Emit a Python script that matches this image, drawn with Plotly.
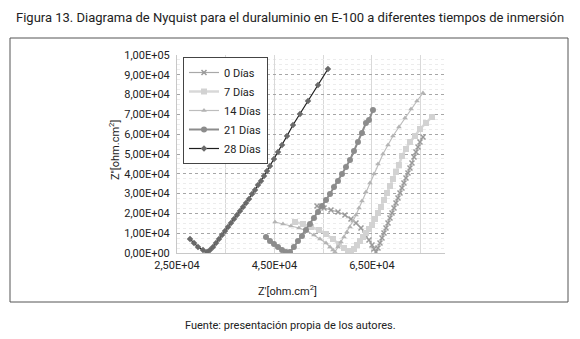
import plotly.graph_objects as go

# ---- data ----
series_names = ["0 Días", "7 Días", "14 Días", "21 Días", "28 Días"]

zr_0 = [53730, 55170, 56600, 58040, 59470, 60710, 61730, 62760, 63580, 64400, 65020, 65420, 65830,
        66250, 66660, 67070, 67480, 67890, 68300, 68710, 69120, 69530, 69940, 70350, 70760, 71170,
        71580, 71990, 72400, 72810, 73220, 73640, 74050, 74460, 74870, 75480]
zi_0 = [23740, 22730, 21720, 20710, 19190, 17170, 15150, 12630, 9600, 6570, 4040, 2020, 505,
        2525, 5050, 7580, 10100, 12630, 15150, 17680, 20200, 22730, 25250, 27780, 30300, 32830,
        35350, 37880, 40400, 42930, 45450, 48480, 51010, 53540, 56060, 58590]

zr_7 = [49210, 50860, 52500, 54140, 55580, 57010, 58240, 59270, 60090, 60710, 61320, 61940, 62550,
        63170, 63780, 64400, 65020, 65630, 66250, 66860, 67480, 68090, 68710, 69320, 69940, 70550,
        71170, 71990, 72810, 73840, 74870, 76100, 77330]
zi_7 = [15660, 14650, 13130, 11620, 9600, 7070, 4545, 2525, 1010, 505, 2020, 4040, 6060,
        8080, 10100, 12120, 14140, 17170, 20200, 23230, 26770, 30300, 33840, 37370, 40910, 44440,
        49000, 52530, 56060, 59090, 62630, 65660, 68690]

zr_14 = [45110, 46750, 48390, 50030, 51680, 53110, 54340, 55580, 56400, 57010, 57420,
         58040, 58650, 59270, 59880, 60500, 61120, 61730, 62350, 62960, 63780, 64600, 65420,
         66250, 67270, 68300, 69320, 70550, 71790, 73020, 74250, 75480]
zi_14 = [15660, 14650, 13640, 12630, 11110, 9090, 7070, 5050, 3030, 1515, 505,
         3030, 5560, 8080, 10610, 13130, 16160, 19190, 22730, 26260, 30810, 35350, 39900,
         44950, 50000, 54550, 59090, 63640, 68180, 72730, 76770, 80810]

zr_21 = [43260, 44080, 44900, 45730, 46550, 47370, 48190, 48990, 49830, 50650, 51470, 52290, 53110,
         53940, 54760, 55580, 56400, 57220, 58040, 58860, 59680, 60500, 61320, 62140, 62960, 63780,
         64400, 65220]
zi_21 = [8080, 6060, 4545, 3030, 1515, 505, 505, 3030, 6060, 8590, 11620, 14650, 17680,
         20710, 23740, 26770, 29800, 33330, 36360, 39900, 43430, 46970, 51520, 56060, 60610, 65660,
         67170, 72220]

zr_28 = [27670, 28490, 29310, 30340, 31160, 31770, 32390, 33000, 33620, 34230, 34850, 35470, 36080,
         36700, 37310, 37930, 38540, 39160, 39780, 40390, 41010, 41620, 42240, 42850, 43470, 44080,
         44900, 45730, 46550, 47570, 48800, 50240, 51880, 53930, 55980]
zi_28 = [7070, 5050, 3030, 1515, 505, 1515, 3030, 5050, 7070, 9090, 11110, 13130, 15150,
         17170, 19190, 21210, 23230, 25250, 27270, 29800, 31820, 34340, 36360, 38890, 41410, 43940,
         47470, 51010, 54550, 59090, 64650, 70200, 76770, 84850, 92930]

y_tick_vals = [0, 10000, 20000, 30000, 40000, 50000, 60000, 70000, 80000, 90000, 100000]
y_tick_text = ["0,00E+00", "1,00E+04", "2,00E+04", "3,00E+04", "4,00E+04", "5,00E+04",
               "6,00E+04", "7,00E+04", "8,00E+04", "9,00E+04", "1,00E+05"]
x_tick_vals = [25000, 45000, 65000]
x_tick_text = ["2,50E+04", "4,50E+04", "6,50E+04"]

# ---- styles ----
FONT = "Roboto, Liberation Sans, sans-serif"
styles = {
    "0 Días": dict(color="#9a9a9a", line="#a8a8a8", symbol="x-thin-open", size=5, width=1.2),
    "7 Días": dict(color="#d2d2d2", line="#d8d8d8", symbol="square", size=6, width=2.5),
    "14 Días": dict(color="#b4b4b4", line="#bdbdbd", symbol="triangle-up", size=5, width=1.2),
    "21 Días": dict(color="#8c8c8c", line="#8c8c8c", symbol="circle", size=6, width=2),
    "28 Días": dict(color="#6a6a6a", line="#1e1e1e", symbol="diamond", size=5, width=1.2),
}
data = {
    "0 Días": (zr_0, zi_0),
    "7 Días": (zr_7, zi_7),
    "14 Días": (zr_14, zi_14),
    "21 Días": (zr_21, zi_21),
    "28 Días": (zr_28, zi_28),
}

fig = go.Figure()
for name in series_names:
    xs, ys = data[name]
    st = styles[name]
    mk = dict(color=st["color"], size=st["size"], symbol=st["symbol"])
    if st["symbol"] == "x-thin-open":
        mk["line"] = dict(color=st["color"], width=1.5)
    fig.add_trace(go.Scatter(
        x=xs, y=ys, name=name, mode="lines+markers",
        line=dict(color=st["line"], width=st["width"]),
        marker=mk,
    ))

W, H = 580, 339
L, R, T, B = 177, 135, 55, 86
pw, ph = W - L - R, H - T - B


def px(x):
    return (x - L) / pw


def py(y):
    return (H - B - y) / ph


frame_color = "#555555"
frame = []
for (xa, ya, xb, yb) in [(10, 38, 568, 38), (10, 302, 568, 302), (10, 38, 10, 302), (568, 38, 568, 302)]:
    frame.append(dict(type="line", xref="paper", yref="paper",
                      x0=px(xa), y0=py(ya), x1=px(xb), y1=py(yb),
                      line=dict(color=frame_color, width=1), layer="above"))

fig.update_layout(
    width=W, height=H,
    margin=dict(l=L, r=R, t=T, b=B, pad=0),
    paper_bgcolor="white", plot_bgcolor="white",
    font=dict(family=FONT, size=12, color="#222222"),
    showlegend=True,
    legend=dict(x=px(183), y=py(57), xanchor="left", yanchor="top",
                bgcolor="white", bordercolor="#444444", borderwidth=1,
                font=dict(family=FONT, size=11, color="#222222"),
                itemwidth=30, tracegroupgap=0),
    xaxis=dict(range=[25000, 80000], tickmode="array", tickvals=x_tick_vals, ticktext=x_tick_text,
               showgrid=True, gridcolor="#d9d9d9", gridwidth=1,
               minor=dict(dtick=10000, tick0=25000, showgrid=True, gridcolor="#d9d9d9", gridwidth=1),
               showline=True, linecolor="#c8c8c8", linewidth=1, zeroline=False,
               ticks="", ticklabelstandoff=2, tickfont=dict(family=FONT, size=11, color="#222222")),
    yaxis=dict(range=[0, 100000], tickmode="array", tickvals=y_tick_vals, ticktext=y_tick_text,
               showgrid=True, gridcolor="#a6a6a6", gridwidth=1, griddash="dot",
               minor=dict(dtick=2500, tick0=0, showgrid=True, gridcolor="#ececec", gridwidth=1),
               showline=True, linecolor="#c8c8c8", linewidth=1, zeroline=False,
               ticks="", ticklabelstandoff=4, tickfont=dict(family=FONT, size=11, color="#222222")),
    shapes=frame,
    annotations=[
        dict(text="Figura 13. Diagrama de Nyquist para el duraluminio en E-100 a diferentes tiempos de inmersión",
             xref="paper", yref="paper", x=px(290), y=py(17), showarrow=False,
             xanchor="center", yanchor="middle", font=dict(family=FONT, size=13, color="#222222")),
        dict(text="Z''[ohm.cm<sup>2</sup>]", xref="paper", yref="paper", x=px(114), y=py(150),
             showarrow=False, textangle=-90, xanchor="center", yanchor="middle",
             font=dict(family=FONT, size=11, color="#222222")),
        dict(text="Z'[ohm.cm<sup>2</sup>]", xref="paper", yref="paper", x=px(287), y=py(290),
             showarrow=False, xanchor="center", yanchor="middle",
             font=dict(family=FONT, size=11, color="#222222")),
        dict(text="Fuente: presentación propia de los autores.", xref="paper", yref="paper",
             x=px(290), y=py(325), showarrow=False, xanchor="center", yanchor="middle",
             font=dict(family=FONT, size=11, color="#222222")),
    ],
)

fig.write_html("out.html", config={"displayModeBar": False},
               post_script="document.body.style.margin='0px';document.body.style.padding='0px';")
